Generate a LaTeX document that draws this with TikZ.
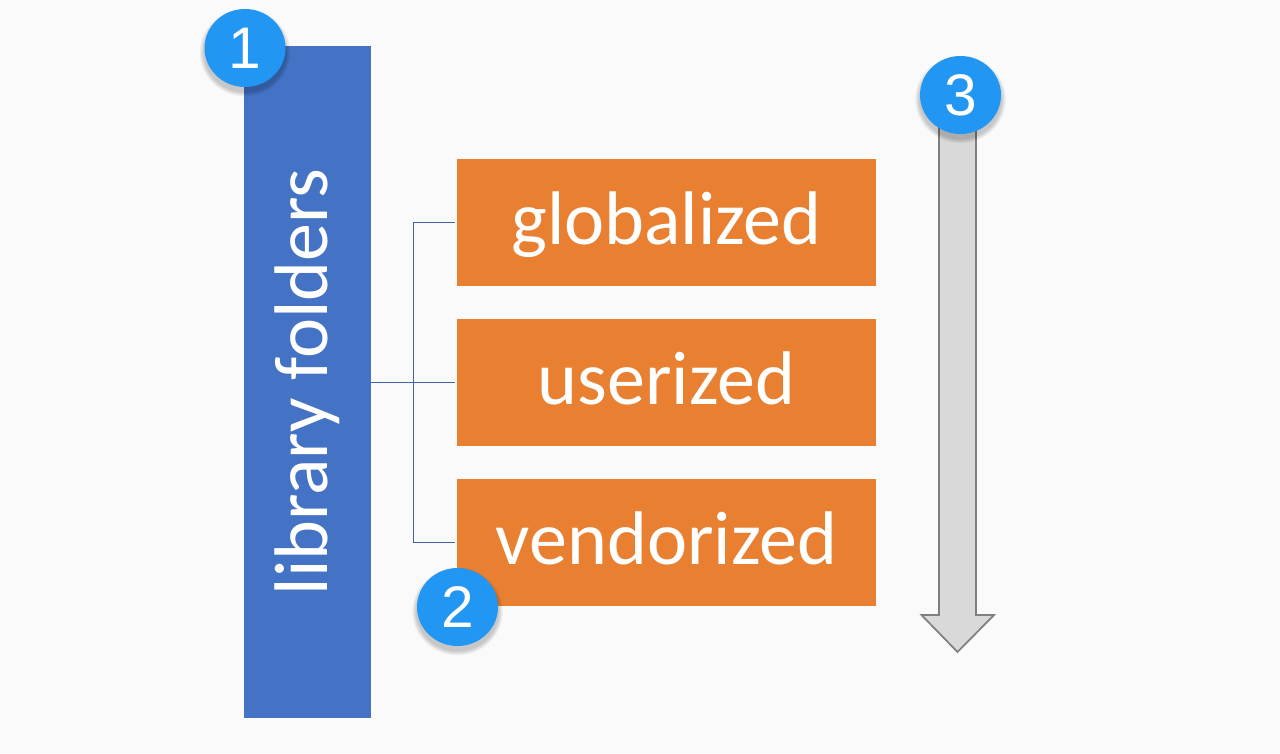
\documentclass[tikz,border=0pt]{standalone}
\usepackage{fontspec}
\setmainfont{Carlito}
\newfontfamily\badgefont{Liberation Sans}
\usetikzlibrary{positioning}
\definecolor{pagegray}{HTML}{FAFAFA}
\definecolor{barblue}{HTML}{4472C4}
\definecolor{boxorange}{HTML}{E97F30}
\definecolor{linkblue}{HTML}{3F64A6}
\definecolor{badgeblue}{HTML}{2196F3}
\definecolor{arrowgray}{HTML}{D9D9D9}
\definecolor{edgegray}{HTML}{7F7F7F}
\tikzset{%
	folderbar/.style = {fill=barblue, text=white, minimum width=95.25pt, minimum height=504pt, inner sep=0pt, font=\fontsize{57}{60}\selectfont},
	folderbox/.style = {fill=boxorange, text=white, text width=314.25pt, align=center, text height=64pt, text depth=31.25pt, inner sep=0pt, font=\fontsize{57}{60}\selectfont},
	link/.style      = {draw=linkblue, line width=0.7pt},
	downarrow/.style = {fill=arrowgray, draw=edgegray, line width=1.3pt, line join=miter},
}
\newcommand{\badgeat}[3]{%
	\foreach \s in {1,...,6}
		\fill[black,opacity=.035] (#2)++(0,4.5) ellipse ({40.5+\s*.8} and {39+\s*.8});
	\fill[badgeblue] (#2) ellipse (40.5 and 39);
	\node[text=white,font=\badgefont\fontsize{44}{44}\selectfont] (#1) at (#2) {#3};
}
\begin{document}
\begin{tikzpicture}[x=0.75pt,y=-0.75pt]
	\fill[pagegray] (0,0) rectangle (1280,753);
	\useasboundingbox (0,0) rectangle (1280,753);

	\draw[downarrow] (939,95) -- (939,615) -- (921.5,615) -- (957.5,652) -- (994,615) -- (976,615) -- (976,95) -- cycle;

	\node[folderbar] (folders) at (307.5,382) {\rotatebox{90}{\raisebox{-1.5pt}{library folders}}};
	\node[folderbox] (globalized) at (666.5,222.2) {globalized};
	\node[folderbox,below=24.6pt of globalized] (userized) {userized};
	\node[folderbox,below=24.6pt of userized] (vendorized) {vendorized};

	\coordinate (trunk) at (413.5,382.5);
	\draw[link] (folders.east |- userized.west) -- ([xshift=-1.5pt]userized.west);
	\draw[link] ([xshift=-1.5pt]globalized.west) -| (trunk) |- ([xshift=-1.5pt]vendorized.west);

	\badgeat{first}{245,48}{1}
	\badgeat{second}{457.5,607}{2}
	\badgeat{third}{960.5,95}{3}
\end{tikzpicture}
\end{document}
